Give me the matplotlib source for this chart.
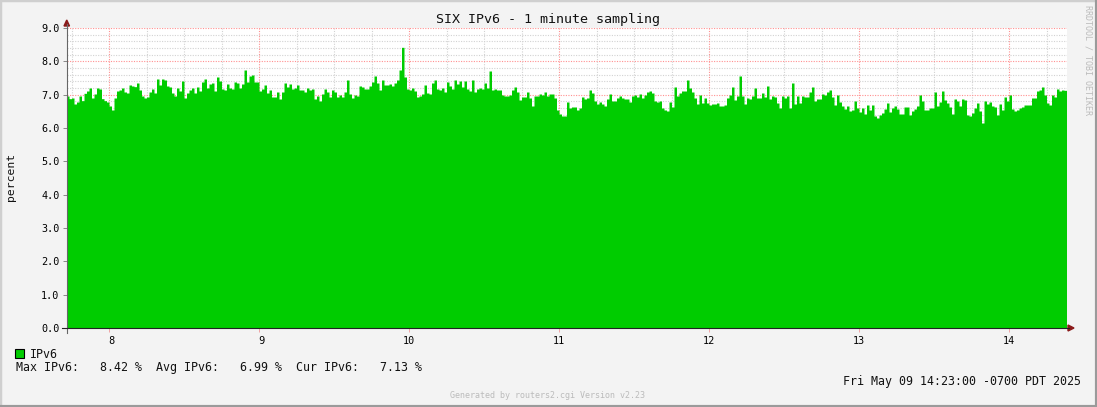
import matplotlib
matplotlib.use("Agg")
import matplotlib.pyplot as plt
import numpy as np

# one value per minute, 07:43 .. 14:23 (percent of traffic that is IPv6)
ipv6_0743 = [6.96, 6.88, 6.90, 6.72, 6.78, 6.96, 6.82, 7.04, 7.11, 7.20,
             6.90, 7.02, 7.20, 7.17, 6.88, 6.82, 6.78, 6.66, 6.54, 6.90,
             7.11, 7.14, 7.20, 7.08, 7.05, 7.29, 7.26, 7.24, 7.35, 7.14,
             6.96, 6.90, 6.93, 7.08, 7.17, 7.05, 7.47, 7.29, 7.47, 7.44,
             7.26, 7.23, 7.05, 6.96, 7.20, 7.11, 7.41, 6.90, 7.05, 7.14,
             7.20, 7.05, 7.23, 7.11, 7.38, 7.47, 7.20, 7.32, 7.35, 7.11,
             7.53, 7.41, 7.17, 7.14, 7.32, 7.20, 7.17]
ipv6_0850 = [7.38, 7.35, 7.20, 7.32, 7.74, 7.38, 7.56, 7.59, 7.38,
             7.38, 7.11, 7.17, 7.29, 7.05, 7.14, 6.93, 6.93, 7.08, 6.87,
             7.08, 7.35, 7.23, 7.32, 7.17, 7.20, 7.29, 7.14, 7.14, 7.08,
             7.20, 7.14, 7.17, 6.87, 6.96, 6.81, 7.02, 7.17, 7.08, 6.93,
             7.14, 7.08, 6.93, 6.99, 6.93, 7.08, 7.44, 7.02, 6.90, 6.99,
             6.96, 7.26, 7.23, 7.17, 7.17, 7.26, 7.38, 7.56, 7.35, 7.14,
             7.44, 7.29, 7.29, 7.32, 7.26, 7.35, 7.44]
ipv6_0956 = [7.74, 8.42, 7.53, 7.17, 7.14, 7.20, 7.11, 6.93, 6.96, 7.02,
             7.29, 7.05, 7.02, 7.35, 7.44, 7.17, 7.14, 7.20, 7.08, 7.38,
             7.26, 7.17, 7.44, 7.32, 7.41, 7.23, 7.41, 7.17, 7.11, 7.44,
             7.08, 7.17, 7.20, 7.17, 7.35, 7.20, 7.71, 7.14, 7.17, 7.14,
             7.14, 6.99, 6.96, 6.96, 6.99, 7.14, 7.23, 7.08, 6.84, 6.93,
             6.93, 7.08, 6.90, 6.66, 6.96, 6.96, 7.02, 6.99, 7.08, 6.96,
             7.02, 7.02, 6.90, 6.54, 6.42, 6.36]
ipv6_1102 = [6.36, 6.78, 6.60, 6.63, 6.63, 6.54, 6.60, 6.93, 6.87, 6.90,
             7.14, 7.05, 6.81, 6.72, 6.78, 6.72, 6.66, 6.87, 7.02, 6.81,
             6.81, 6.90, 6.96, 6.90, 6.87, 6.87, 6.78, 6.96, 6.99, 6.93,
             7.02, 6.90, 6.99, 7.08, 7.11, 7.05, 6.81, 6.78, 6.81, 6.60,
             6.54, 6.51, 6.78, 6.63, 7.23, 6.96, 7.05, 7.11, 7.11, 7.44,
             7.20, 7.08, 6.90, 6.72, 6.99, 6.75, 6.90, 6.75, 6.69, 6.72,
             6.72, 6.75, 6.66, 6.66, 6.69, 6.90, 6.99]
ipv6_1209 = [7.23, 6.84, 6.96, 7.56, 6.96, 6.72, 6.90, 6.87, 6.96, 7.20,
             6.90, 6.90, 7.05, 6.93, 7.26, 6.87, 6.96, 6.93, 6.75, 6.60,
             6.96, 6.90, 6.96, 6.60, 7.35, 6.72, 6.96, 6.75, 6.96, 6.93,
             6.93, 7.08, 7.23, 6.81, 6.87, 6.87, 7.02, 6.99, 7.08, 7.14,
             6.93, 6.69, 6.99, 6.78, 6.66, 6.57, 6.66, 6.51, 6.54, 6.81,
             6.60, 6.48, 6.60, 6.42, 6.69, 6.54, 6.69, 6.36, 6.30, 6.39,
             6.45, 6.57, 6.75, 6.48, 6.60, 6.66, 6.57]
ipv6_1316 = [6.42, 6.42, 6.63, 6.63, 6.39, 6.51, 6.57, 6.66, 6.99,
             6.81, 6.54, 6.54, 6.60, 6.60, 7.08, 6.66, 6.78, 7.11, 6.84,
             6.75, 6.63, 6.42, 6.87, 6.81, 6.66, 6.87, 6.84, 6.39, 6.36,
             6.45, 6.60, 6.75, 6.51, 6.15, 6.81, 6.72, 6.78, 6.66, 6.63,
             6.39, 6.72, 6.54, 6.93, 6.81, 6.99, 6.57, 6.51, 6.54, 6.60,
             6.63, 6.69, 6.69, 6.69, 6.90, 6.90, 7.11, 7.14, 7.23, 6.99,
             6.75, 6.69, 6.99, 6.93, 7.17, 7.11, 7.14, 7.13]

ipv6 = np.array(ipv6_0743 + ipv6_0850 + ipv6_0956 + ipv6_1102 + ipv6_1209 + ipv6_1316)
start_hour = 7 + 43 / 60.0
end_hour = 14 + 23 / 60.0
hour_ticks = [8, 9, 10, 11, 12, 13, 14]
hour_labels = [' 8', ' 9', '10', '11', '12', '13', '14']
y_ticks = [0, 1, 2, 3, 4, 5, 6, 7, 8, 9]

W, H = 1097, 407
mono = 'DejaVu Sans Mono'
green = '#00cc00'
grid_minor = '#d2d2d2'
grid_major = '#ff9090'


def fx(x):
    return x / W


def fy(y):
    return 1 - y / H


fig = plt.figure(figsize=(W / 100, H / 100), dpi=100, facecolor='#f3f3f3')
ax = fig.add_axes([fx(66.5), fy(328), 1000 / W, 300 / H])
ax.set_facecolor('white')

# AREA drawn as a step fill, one step per minute
n = len(ipv6)
edges = np.linspace(start_hour, end_hour, n + 1)
ax.fill_between(edges, np.append(ipv6, ipv6[-1]), 0, step='post', color=green,
                linewidth=0, zorder=3)

ax.set_xlim(start_hour, end_hour)
ax.set_ylim(0, 9)

# grid, drawn under the area
for v in np.arange(0.2, 9.01, 0.2):
    major = abs(v - round(v)) < 1e-6
    ax.axhline(v, color=grid_major if major else grid_minor, lw=0.8,
               dashes=(1, 1.3), zorder=2 if major else 1)
for q in np.arange(7.75, end_hour, 0.25):
    major = abs(q - round(q)) < 1e-6
    ax.axvline(q, color=grid_major if major else grid_minor, lw=0.8,
               dashes=(1, 1.3), zorder=2 if major else 1)

ax.set_yticks(y_ticks)
ax.set_yticklabels(['%.1f' % v for v in y_ticks], family=mono, fontsize=7.3)
ax.set_xticks(hour_ticks)
ax.set_xticklabels(hour_labels, family=mono, fontsize=7.3)
ax.tick_params(axis='y', length=3, width=0.7, color='#888888', pad=2)
ax.tick_params(axis='x', length=3, width=0.7, color='#f0a4a4', pad=3,
               direction='out')

for s in ['top', 'right', 'left', 'bottom']:
    ax.spines[s].set_visible(False)

# axis lines running out to the arrows
fig.lines.append(plt.Line2D([fx(66.5), fx(66.5)], [fy(333), fy(24)],
                            transform=fig.transFigure, color='#666666', lw=0.8))
fig.lines.append(plt.Line2D([fx(62), fx(1069)], [fy(328), fy(328)],
                            transform=fig.transFigure, color='#222222', lw=0.8))
fig.patches.append(plt.Polygon([(fx(64), fy(26)), (fx(69.5), fy(26)), (fx(66.75), fy(20))],
                               closed=True, color='#8b1a1a', transform=fig.transFigure))
fig.patches.append(plt.Polygon([(fx(1068), fy(325)), (fx(1068), fy(331)), (fx(1074), fy(328))],
                               closed=True, color='#8b1a1a', transform=fig.transFigure))

fig.text(fx(548), fy(19), 'SIX IPv6 - 1 minute sampling', family=mono, fontsize=9.6,
         ha='center', va='center', color='#111111')
fig.text(fx(11), fy(177), 'percent', family=mono, fontsize=8.2, rotation=90,
         ha='center', va='center', color='#111111')
fig.text(fx(1088), fy(5), 'RRDTOOL / TOBI OETIKER', family=mono, fontsize=6.0,
         rotation=270, ha='center', va='top', color='#bbbbbb')

# legend
fig.patches.append(plt.Rectangle((fx(15), fy(358)), 9 / W, 9 / H, facecolor=green,
                                 edgecolor='black', linewidth=0.8, transform=fig.transFigure))
fig.text(fx(30), fy(354), 'IPv6', family=mono, fontsize=8.4, ha='left', va='center',
         color='#111111')
stats = 'Max IPv6:   %.2f %%  Avg IPv6:   %.2f %%  Cur IPv6:   %.2f %%' % (
    8.42, 6.99, 7.13)
fig.text(fx(16), fy(368), stats, family=mono, fontsize=8.4, ha='left', va='center',
         color='#111111')
fig.text(fx(1081), fy(382), 'Fri May 09 14:23:00 -0700 PDT 2025', family=mono,
         fontsize=8.4, ha='right', va='center', color='#111111')
fig.text(fx(548), fy(396), 'Generated by routers2.cgi Version v2.23', family=mono,
         fontsize=6.0, ha='center', va='center', color='#bbbbbb')

# 3d frame round the image
fig.lines.append(plt.Line2D([0, 0, 1], [0, 1, 1], transform=fig.transFigure,
                            color='#cfcfcf', linewidth=2.5))
fig.lines.append(plt.Line2D([0, 1, 1], [0, 0, 1], transform=fig.transFigure,
                            color='#9a9a9a', linewidth=3))

fig.savefig('out.png', dpi=100, facecolor=fig.get_facecolor())
